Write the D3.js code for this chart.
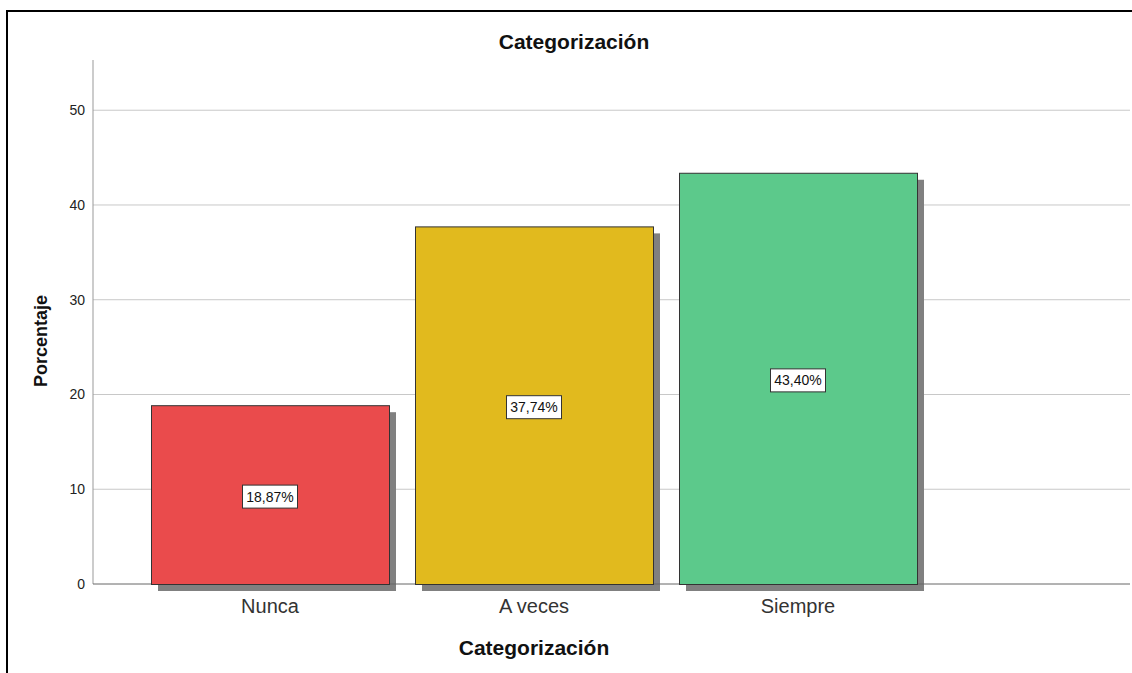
<!DOCTYPE html>
<html>
<head>
<meta charset="utf-8">
<script src="https://cdn.jsdelivr.net/npm/d3@7"></script>
<style>
  body { margin: 0; background: #fff; }
  svg { display: block; }
  text { font-family: "Liberation Sans", Arial, sans-serif; }
</style>
</head>
<body>
<div id="chart"></div>
<script>

let categories = ["Nunca", "A veces", "Siempre"];
let percentages = [18.87, 37.74, 43.40];
let barColors = ["#EA4B4C", "#E1BA1E", "#5CC98B"];
let yTicks = [0, 10, 20, 30, 40, 50];

let chartTitle = "Categorización";
let xTitle = "Categorización";
let yTitle = "Porcentaje";


let w = 1132; let h = 673;

let svg = d3.select("#chart")
    .append("svg")
    .attr("width", w)
    .attr("height", h);

// outer frame (runs off the right / bottom edge)
svg.append("rect")
    .attr("x", 7).attr("y", 11)
    .attr("width", 1200).attr("height", 700)
    .attr("fill", "none")
    .attr("stroke", "#000")
    .attr("stroke-width", 2);

let x = d3.scaleBand()
    .domain(categories)
    .range([138, 930])
    .paddingInner(26 / 264)
    .paddingOuter(13 / 264);

let y = d3.scaleLinear()
    .domain([0, 55.3])
    .range([584, 60]);

let axisLeft = 93; let axisRight = 1130;

let comma = d3.formatLocale({decimal: ",", thousands: ".", grouping: [3], currency: ["", "€"]});
let pct = v => comma.format(".2f")(v) + "%";


// gridlines
svg.append("g")
  .selectAll("line")
  .data(yTicks.filter(t => t > 0))
  .enter().append("line")
    .attr("x1", axisLeft).attr("x2", axisRight)
    .attr("y1", d => y(d)).attr("y2", d => y(d))
    .attr("stroke", "#c8c8c8")
    .attr("stroke-width", 1);

// y axis
let yAxis = svg.append("g")
    .attr("transform", `translate(${axisLeft},0)`)
    .call(d3.axisLeft(y).tickValues(yTicks).tickSize(0).tickPadding(8));
yAxis.select(".domain").remove();
yAxis.selectAll("text")
    .attr("font-family", "Liberation Sans, Arial, sans-serif")
    .attr("font-size", 14)
    .attr("fill", "#222");

svg.append("line")
    .attr("x1", axisLeft).attr("x2", axisLeft)
    .attr("y1", 60).attr("y2", y(0))
    .attr("stroke", "#999");

// shadows
let bars = categories.map((c, i) => ({name: c, value: percentages[i], color: barColors[i]}));

svg.append("g")
  .selectAll("rect")
  .data(bars)
  .enter().append("rect")
    .attr("x", d => x(d.name) + 7)
    .attr("y", d => y(d.value) + 7)
    .attr("width", x.bandwidth())
    .attr("height", d => y(0) - y(d.value))
    .attr("fill", "#808080");

// baseline
svg.append("line")
    .attr("x1", axisLeft).attr("x2", axisRight)
    .attr("y1", y(0)).attr("y2", y(0))
    .attr("stroke", "#666");

// bars
svg.append("g")
  .selectAll("rect")
  .data(bars)
  .enter().append("rect")
    .attr("x", d => x(d.name) + 0.5)
    .attr("y", d => y(d.value) + 0.5)
    .attr("width", x.bandwidth())
    .attr("height", d => y(0) - y(d.value))
    .attr("fill", d => d.color)
    .attr("stroke", "#333")
    .attr("stroke-width", 1);

// value labels
let lab = svg.append("g")
  .selectAll("g")
  .data(bars)
  .enter().append("g")
    .attr("transform", d => `translate(${x(d.name) + x.bandwidth() / 2},${(y(d.value) + y(0)) / 2 + 2})`);

lab.append("rect")
    .attr("x", -27.5).attr("y", -11.5)
    .attr("width", 55).attr("height", 23)
    .attr("fill", "#fff")
    .attr("stroke", "#333");

lab.append("text")
    .attr("text-anchor", "middle")
    .attr("y", 5)
    .attr("font-size", 14)
    .attr("fill", "#111")
    .text(d => pct(d.value));

// category labels
svg.append("g")
  .selectAll("text")
  .data(categories)
  .enter().append("text")
    .attr("x", d => x(d) + x.bandwidth() / 2)
    .attr("y", 613)
    .attr("text-anchor", "middle")
    .attr("font-size", 20)
    .attr("fill", "#333")
    .text(d => d);

// titles
svg.append("text")
    .attr("x", 574).attr("y", 49)
    .attr("text-anchor", "middle")
    .attr("font-size", 21)
    .attr("font-weight", "bold")
    .attr("fill", "#111")
    .text(chartTitle);

svg.append("text")
    .attr("x", 534).attr("y", 655)
    .attr("text-anchor", "middle")
    .attr("font-size", 21)
    .attr("font-weight", "bold")
    .attr("fill", "#111")
    .text(xTitle);

svg.append("text")
    .attr("transform", "translate(47,341) rotate(-90)")
    .attr("text-anchor", "middle")
    .attr("font-size", 18)
    .attr("font-weight", "bold")
    .attr("fill", "#111")
    .text(yTitle);

</script>
</body>
</html>
